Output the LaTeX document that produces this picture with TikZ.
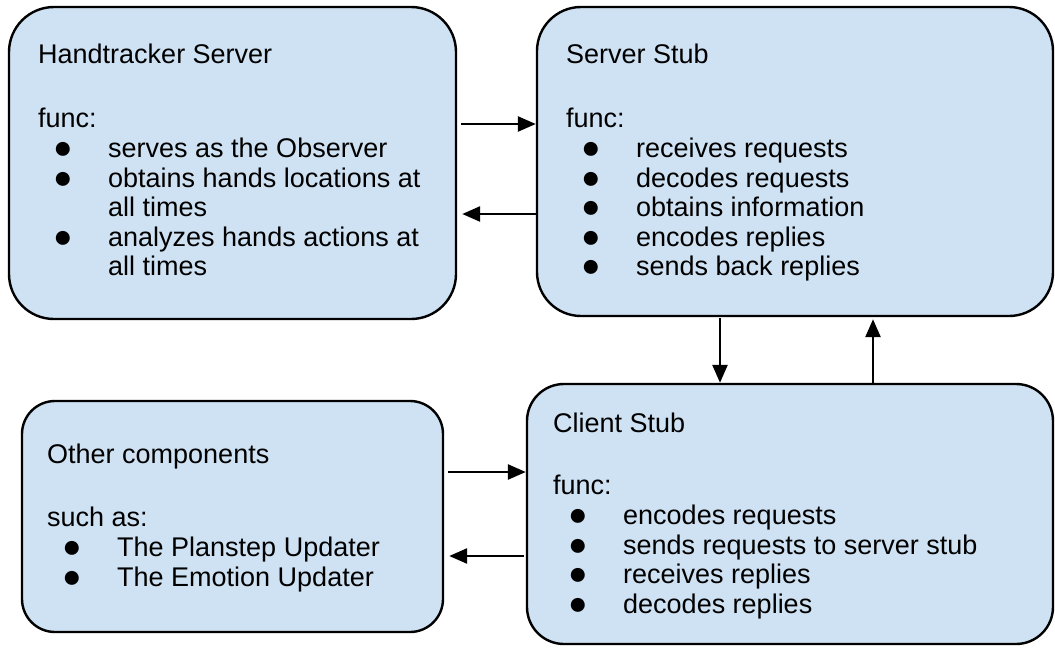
\documentclass[tikz,border=0pt]{standalone}
\usepackage{fontspec}
\setmainfont{Liberation Sans}
\usetikzlibrary{arrows.meta}

\definecolor{boxblue}{HTML}{CFE2F3}
\newcommand{\bul}{\makebox[70pt][l]{\hspace{15pt}\raisebox{-1pt}{\scalebox{1.2}{●}}}}
\newcommand{\cnt}{\hspace*{70pt}}
\newcommand{\hd}{\rule{0pt}{20pt}}

\begin{document}
\begin{tikzpicture}[x=1pt, y=-1pt,
    box/.style={draw, line width=2.4pt, fill=boxblue, inner sep=0pt},
    txt/.style={anchor=north west, inner sep=0pt, align=left,
      font=\fontsize{27}{29.6}\selectfont},
    arr/.style={line width=2.6pt, -{Triangle[length=18pt,width=15pt]}}]
  \useasboundingbox (0,0) rectangle (1055,648);

  % the four boxes
  \node[box, rounded corners=45pt, minimum width=447pt, minimum height=312pt] (hts) at (232.5,163) {};
  \node[box, rounded corners=44pt, minimum width=516pt, minimum height=309pt] (sst) at (795,161.5) {};
  \node[box, rounded corners=37pt, minimum width=526pt, minimum height=260pt] (cst) at (790,514) {};
  \node[box, rounded corners=33pt, minimum width=421pt, minimum height=231pt] (oth) at (232.5,516.5) {};

  % texts
  \node[txt] (hts-txt) at (38,43) {\hd Handtracker Server\\[35pt]
    func:\\
    \bul serves as the Observer\\
    \bul obtains hands locations at\\
    \cnt all times\\
    \bul analyzes hands actions at\\
    \cnt all times};
  \node[txt] (sst-txt) at (566,43) {\hd Server Stub\\[35pt]
    func:\\
    \bul receives requests\\
    \bul decodes requests\\
    \bul obtains information\\
    \bul encodes replies\\
    \bul sends back replies};
  \node[txt] (cst-txt) at (553,412) {\hd Client Stub\\[33pt]
    func:\\
    \bul encodes requests\\
    \bul sends requests to server stub\\
    \bul receives replies\\
    \bul decodes replies};
  \node[txt] (oth-txt) at (47,443) {\hd Other components\\[34pt]
    such as:\\
    \bul The Planstep Updater\\
    \bul The Emotion Updater};

  % connectors
  \coordinate (r1) at (0,124);
  \coordinate (r2) at (0,214);
  \coordinate (r3) at (720,0);
  \coordinate (r4) at (873,0);
  \coordinate (r5) at (0,472);
  \coordinate (r6) at (0,556);
  \draw[arr, shorten <=4pt] (hts.east |- r1) -- (sst.west |- r1);
  \draw[arr, shorten >=5pt] (sst.west |- r2) -- (hts.east |- r2);
  \draw[arr, shorten <=1pt] (r3 |- sst.south) -- (r3 |- cst.north);
  \draw[arr, shorten >=2pt] (r4 |- cst.north) -- (r4 |- sst.south);
  \draw[arr, shorten <=4pt] (oth.east |- r5) -- (cst.west |- r5);
  \draw[arr, shorten >=5pt, shorten <=2pt] (cst.west |- r6) -- (oth.east |- r6);
\end{tikzpicture}
\end{document}
